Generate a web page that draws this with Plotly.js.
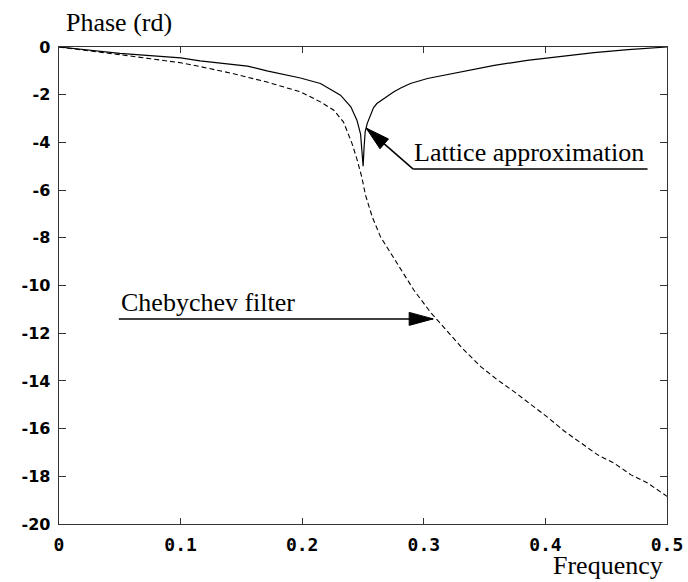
<!DOCTYPE html>
<html>
<head>
<meta charset="utf-8">
<script src="https://cdn.plot.ly/plotly-3.0.1.min.js"></script>
<style>
  html, body { margin: 0; padding: 0; background: #ffffff; }
  #chart { width: 688px; height: 582px; }
</style>
</head>
<body>
<div id="chart"></div>
<script>
// Lattice approximation (solid)
const freqLattice = [0, 0.02, 0.05, 0.075, 0.1, 0.116, 0.155, 0.171, 0.1985, 0.215, 0.2315, 0.24, 0.245, 0.248, 0.2493, 0.2501, 0.2509, 0.2518, 0.2535, 0.2559, 0.2586, 0.2614, 0.267, 0.2754, 0.281, 0.289, 0.303, 0.33, 0.358, 0.385, 0.413, 0.44, 0.468, 0.5];
const phaseLattice = [0, -0.12, -0.27, -0.36, -0.46, -0.58, -0.8, -1.0, -1.3, -1.53, -2.02, -2.51, -3.07, -3.65, -4.4, -5.0, -4.2, -3.55, -3.2, -2.92, -2.55, -2.37, -2.16, -1.88, -1.72, -1.53, -1.32, -1.05, -0.77, -0.56, -0.39, -0.24, -0.11, 0];

// Chebychev filter (dashed)
const freqCheby = [0, 0.02, 0.05, 0.075, 0.1, 0.116, 0.1436, 0.171, 0.1985, 0.215, 0.226, 0.234, 0.241, 0.245, 0.249, 0.252, 0.2576, 0.2644, 0.2727, 0.281, 0.2918, 0.3056, 0.3194, 0.333, 0.3468, 0.3606, 0.3742, 0.388, 0.4017, 0.4154, 0.4292, 0.443, 0.4566, 0.4704, 0.484, 0.5];
const phaseCheby = [0, -0.14, -0.32, -0.49, -0.66, -0.82, -1.12, -1.47, -1.88, -2.30, -2.65, -3.15, -4.05, -4.7, -5.45, -6.2, -7.12, -7.96, -8.65, -9.35, -10.19, -11.13, -11.93, -12.70, -13.40, -13.96, -14.45, -14.98, -15.52, -16.10, -16.61, -17.10, -17.45, -17.94, -18.28, -18.84];

// Axis ticks
const xTickVals = [0, 0.1, 0.2, 0.3, 0.4, 0.5];
const xTickLabels = ['0', '0.1', '0.2', '0.3', '0.4', '0.5'];
const yTickVals = [0, -2, -4, -6, -8, -10, -12, -14, -16, -18, -20];
const yTickLabels = ['0', '-2', '-4', '-6', '-8', '-10', '-12', '-14', '-16', '-18', '-20'];

// Texts
const titleText = 'Phase (rd)';
const xLabelText = 'Frequency';
const latticeLabel = 'Lattice approximation';
const chebyLabel = 'Chebychev filter';

// Annotation anchor points (data units)
const latticeTip = [0.2526, -3.40];
const latticeElbow = [0.2913, -5.12];
const latticeEnd = [0.4840, -5.12];
const chebyTail = [0.0492, -11.40];
const chebyTip = [0.3077, -11.40];

const serif = 'Liberation Serif, Times New Roman, serif';

const traces = [
  {
    x: freqLattice, y: phaseLattice, type: 'scatter', mode: 'lines',
    line: { color: '#000000', width: 1.2 }, hoverinfo: 'skip', name: latticeLabel
  },
  {
    x: freqCheby, y: phaseCheby, type: 'scatter', mode: 'lines',
    line: { color: '#000000', width: 1.1, dash: '5px,3px' }, hoverinfo: 'skip', name: chebyLabel
  }
];

function headPath(dx, dy) {
  const len = 24, hw = 6.5;
  const n = Math.hypot(dx, dy);
  const ux = dx / n, uy = dy / n;
  const bx = ux * len, by = uy * len;
  const px = -uy * hw, py = ux * hw;
  const p1 = [bx + px, -(by + py)];
  const p2 = [bx - px, -(by - py)];
  return `M0,0 L${p1[0].toFixed(2)},${p1[1].toFixed(2)} L${p2[0].toFixed(2)},${p2[1].toFixed(2)} Z`;
}

const shapes = [
  { type: 'line', xref: 'x', yref: 'y', x0: chebyTail[0], y0: chebyTail[1], x1: chebyTip[0], y1: chebyTip[1], line: { color: '#000', width: 1.5 } },
  { type: 'line', xref: 'x', yref: 'y', x0: latticeEnd[0], y0: latticeEnd[1], x1: latticeElbow[0], y1: latticeElbow[1], line: { color: '#000', width: 1.5 } },
  { type: 'line', xref: 'x', yref: 'y', x0: latticeElbow[0], y0: latticeElbow[1], x1: latticeTip[0], y1: latticeTip[1], line: { color: '#000', width: 1.5 } },
  { type: 'path', xref: 'x', yref: 'y', xsizemode: 'pixel', ysizemode: 'pixel', xanchor: chebyTip[0], yanchor: chebyTip[1],
    path: headPath(-1, 0), fillcolor: '#000', line: { color: '#000', width: 1 } },
  { type: 'path', xref: 'x', yref: 'y', xsizemode: 'pixel', ysizemode: 'pixel', xanchor: latticeTip[0], yanchor: latticeTip[1],
    path: headPath(47, 41), fillcolor: '#000', line: { color: '#000', width: 1 } }
];

const annotations = [
  { xref: 'x', yref: 'y', x: latticeElbow[0], y: latticeElbow[1], xanchor: 'left', yanchor: 'bottom', showarrow: false,
    text: latticeLabel, font: { family: serif, size: 26, color: '#000' }, xshift: -1 },
  { xref: 'x', yref: 'y', x: chebyTail[0], y: chebyTail[1], xanchor: 'left', yanchor: 'bottom', showarrow: false,
    text: chebyLabel, font: { family: serif, size: 26, color: '#000' }, xshift: 0 },
  { xref: 'paper', yref: 'paper', x: 1, y: 0, xanchor: 'right', yanchor: 'bottom', showarrow: false,
    text: xLabelText, font: { family: serif, size: 26, color: '#000' }, xshift: -2, yshift: -58 }
];

const layout = {
  width: 688, height: 582,
  margin: { l: 59, r: 21, t: 47, b: 58, pad: 0 },
  paper_bgcolor: '#ffffff', plot_bgcolor: '#ffffff',
  showlegend: false,
  title: {
    text: titleText, font: { family: serif, size: 26, color: '#000' },
    xref: 'container', x: 66 / 688, xanchor: 'left',
    yref: 'paper', y: 1, yanchor: 'bottom', pad: { b: 16 }
  },
  xaxis: {
    range: [0, 0.5], tickvals: xTickVals, ticktext: xTickLabels,
    ticks: 'inside', ticklen: 6, tickwidth: 1.2, tickcolor: '#333',
    showline: true, linecolor: '#333', linewidth: 1.4, mirror: 'ticks',
    showgrid: false, zeroline: false,
    tickfont: { family: 'DejaVu Sans Mono', size: 18, weight: 'bold', color: '#000' },
    ticklabelstandoff: 4, fixedrange: true
  },
  yaxis: {
    range: [-20, 0], tickvals: yTickVals, ticktext: yTickLabels,
    ticks: 'inside', ticklen: 7, tickwidth: 1.2, tickcolor: '#333',
    showline: true, linecolor: '#333', linewidth: 1.4, mirror: 'ticks',
    showgrid: false, zeroline: false,
    tickfont: { family: 'DejaVu Sans', size: 16, weight: 'bold', color: '#000' },
    ticklabelstandoff: 4, fixedrange: true
  },
  shapes: shapes,
  annotations: annotations
};

Plotly.newPlot('chart', traces, layout, { displayModeBar: false, staticPlot: true });
</script>
</body>
</html>
